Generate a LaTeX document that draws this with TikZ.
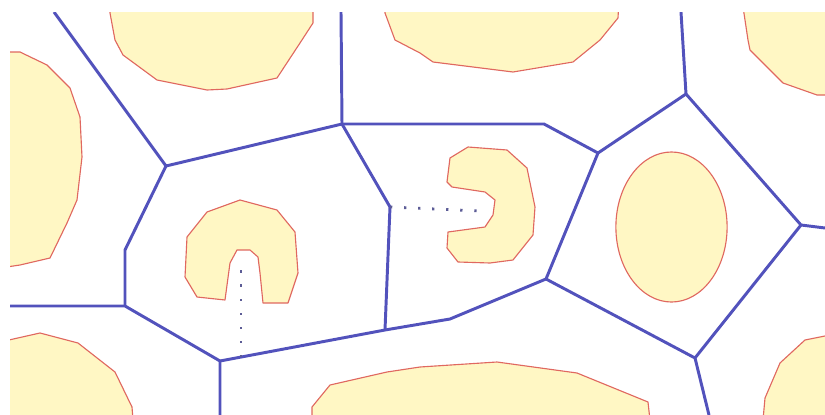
\documentclass[tikz,border=0pt]{standalone}
\definecolor{cellblue}{RGB}{82,82,188}
\definecolor{tracegray}{RGB}{92,92,150}
\definecolor{blobfill}{RGB}{255,247,196}
\definecolor{blobline}{RGB}{224,104,96}
\begin{document}
\begin{tikzpicture}[x=0.025cm, y=-0.025cm, wall/.style={cellblue, line width=2.1pt, line join=round}, blob/.style={fill=blobfill, draw=blobline, line width=0.8pt, line join=round}, trace/.style={tracegray, line width=2pt, dash pattern=on 1.6pt off 8.4pt}]
        \useasboundingbox (0,0) rectangle (825,415);
        \clip (10,12) rectangle (825,415);
        % obstacles
        \draw[blob] (110,0) -- (110,13) -- (115,40) -- (123,55) -- (157,80) -- (207,90) -- (227,89) -- (277,78) -- (300,43) -- (313,23) -- (313,0);
        \draw[blob] (0,52) -- (20,52) -- (47,65) -- (70,88) -- (80,117) -- (82,157) -- (77,200) -- (67,223) -- (50,258) -- (20,265) -- (0,268);
        \draw[blob] (385,0) -- (385,13) -- (395,40) -- (420,53) -- (433,62) -- (513,72) -- (573,62) -- (600,40) -- (618,18) -- (619,0);
        \draw[blob] (742,0) -- (748,40) -- (750,50) -- (783,83) -- (817,95) -- (830,95) -- (830,0);
        \draw[blob] (312,420) -- (312,407) -- (330,385) -- (387,372) -- (420,367) -- (497,362) -- (577,373) -- (648,402) -- (650,420);
        \draw[blob] (0,342) -- (40,333) -- (78,343) -- (115,372) -- (132,407) -- (133,420) -- (0,420);
        \draw[blob] (830,335) -- (805,340) -- (780,363) -- (765,398) -- (763,420) -- (830,420);
        \draw[blob] (207,212) -- (240,200) -- (277,210) -- (295,232) -- (298,273) -- (288,303) -- (263,303) -- (260,273) -- (258,257) -- (250,250) -- (237,250) -- (230,263) -- (225,300) -- (197,297) -- (185,277) -- (187,237) -- cycle;
        \draw[blob] (468,147) -- (507,150) -- (527,168) -- (535,207) -- (533,235) -- (513,260) -- (490,263) -- (458,262) -- (447,248) -- (448,232) -- (485,227) -- (493,215) -- (495,200) -- (485,192) -- (452,187) -- (447,182) -- (450,158) -- cycle;
        \draw[blob] (671.5,227) ellipse [x radius=1.39cm, y radius=1.875cm];
        % vertices
        \coordinate (v1) at (166,166);
        \coordinate (v2) at (342,124);
        \coordinate (v3) at (598,153);
        \coordinate (v4) at (686,94);
        \coordinate (v5) at (801,225);
        \coordinate (v6) at (390,207);
        \coordinate (v7) at (385,330);
        \coordinate (v8) at (546,279);
        \coordinate (v9) at (695,358);
        \coordinate (v10) at (220,361);
        \coordinate (v11) at (125,306);
        \coordinate (b1) at (544,124);
        \coordinate (b2) at (450,319);
        \coordinate (b3) at (125,250);
        \coordinate (t1) at (54,12);
        \coordinate (t2) at (341,12);
        \coordinate (t3) at (681,12);
        \coordinate (r1) at (825,228);
        \coordinate (d1) at (709,415);
        \coordinate (d2) at (220,415);
        \coordinate (l1) at (10,306);
        \coordinate (p1) at (480,211);
        \coordinate (p2) at (241,357);
        \coordinate (p3) at (241,266);
        % edges
        \draw[wall] (t1) -- (v1) -- (v2) -- (t2);
        \draw[wall] (v2) -- (b1) -- (v3) -- (v4) -- (t3);
        \draw[wall] (v4) -- (v5) -- (r1);
        \draw[wall] (v2) -- (v6) -- (v7);
        \draw[wall] (v3) -- (v8) -- (v9) -- (d1);
        \draw[wall] (v5) -- (v9);
        \draw[wall] (v8) -- (b2) -- (v7) -- (v10) -- (d2);
        \draw[wall] (v10) -- (v11) -- (l1);
        \draw[wall] (v11) -- (b3) -- (v1);
        \draw[trace] (v6) -- (p1);
        \draw[trace] (p2) -- (p3);
\end{tikzpicture}
\end{document}
